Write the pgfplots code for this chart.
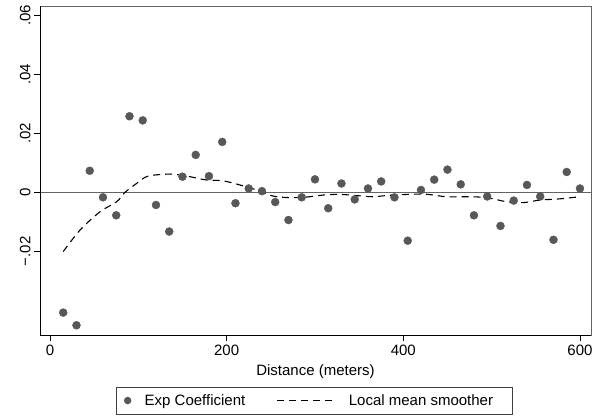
\documentclass[border=0pt]{standalone}
\usepackage{fontspec}
\setmainfont{Liberation Sans}
\usepackage{pgfplots}
\pgfplotsset{compat=1.18}
\definecolor{mk}{RGB}{88,88,88}
\definecolor{fr}{RGB}{100,100,100}
\begin{document}
\begin{tikzpicture}
\begin{axis}[
  scale only axis,
  width=551bp, height=329bp,
  xmin=-11.3, xmax=612.5,
  ymin=-0.0484, ymax=0.0632,
  scaled y ticks=false, scaled x ticks=false,
  axis line style={fr, line width=0.9bp},
  xtick={0,200,400,600},
  xticklabels={0,200,400,600},
  ytick={-0.02,0,0.02,0.04,0.06},
  yticklabels={−.02,0,.02,.04,.06},
  tick pos=lower,
  tick align=outside,
  major tick length=6bp,
  tick style={black, line width=0.8bp},
  every tick label/.style={font=\fontsize{15bp}{18bp}\selectfont},
  y tick label style={rotate=90, anchor=south},
  xlabel={Distance (meters)},
  xlabel style={font=\fontsize{15bp}{18bp}\selectfont, yshift=-3bp},
  legend columns=2,
  legend style={at={(0.498,-0.157)}, anchor=north, draw=black!75, line width=0.8bp,
    font=\fontsize{15bp}{18bp}\selectfont, inner xsep=0bp, inner ysep=4.3bp,
    nodes={inner xsep=0bp, inner ysep=3bp},
    /tikz/every even column/.append style={column sep=31bp}},
  legend cell align=left,
]
\addplot[draw=fr, line width=1bp, forget plot] coordinates {(-11.3,0) (612.5,0)};
\addplot[only marks, mark=*, mark size=4bp, mk, mark options={draw=mk, fill=mk},
  legend image code/.code={\path[draw=none,fill=none] (0bp,-1bp) rectangle (28bp,1bp); \fill[mk] (11bp,0bp) circle (3.3bp);}] coordinates {
(15,-0.0408) (30,-0.0451) (45,0.0073) (60,-0.0017) (75,-0.0078) (90,0.0258)
(105,0.0244) (120,-0.0043) (135,-0.0133) (150,0.0053) (165,0.0127) (180,0.0055)
(195,0.0171) (210,-0.0037) (225,0.0013) (240,0.0004) (255,-0.0033) (270,-0.0094)
(285,-0.0017) (300,0.0044) (315,-0.0054) (330,0.0030) (345,-0.0024) (360,0.0013)
(375,0.0037) (390,-0.0017) (405,-0.0164) (420,0.0008) (435,0.0043) (450,0.0077)
(465,0.0027) (480,-0.0078) (495,-0.0014) (510,-0.0114) (525,-0.0028) (540,0.0025)
(555,-0.0014) (570,-0.0161) (585,0.0069) (600,0.0013)
};
\addlegendentry{Exp Coefficient}
\addplot[black, line width=1.1bp, dash pattern=on 7bp off 5bp, smooth,
  legend image code/.code={\path[draw=none,fill=none] (0bp,-1bp) rectangle (72bp,1bp); \draw[black, line width=1.1bp, dash pattern=on 7bp off 5bp] (0bp,0bp) -- (57bp,0bp);}] coordinates {
(15,-0.0201) (34,-0.0128) (56.6,-0.0066) (75.5,-0.0032) (85,0) (98,0.003)
(111,0.0055) (136,0.0062) (150,0.0057) (158.5,0.0053) (177,0.0042) (196,0.0039)
(215,0.0025) (234,0.0008) (253,-0.0013) (272,-0.0018) (290.6,-0.0016) (310,-0.0009)
(328,-0.0007) (347,-0.0011) (366,-0.0015) (385,-0.0010) (422.6,-0.0006) (449,-0.0015)
(479,-0.0015) (498,-0.002) (517,-0.0032) (536,-0.0035) (555,-0.0026) (574,-0.0023)
(600,-0.0015)
};
\addlegendentry{Local mean smoother\hspace*{19bp}}
\end{axis}
\draw[black, line width=1bp] (current axis.north west) -- (current axis.south west) -- (current axis.south east);
\path ([xshift=-40bp,yshift=-83bp]current axis.south west) rectangle ([xshift=9bp,yshift=6bp]current axis.north east);
\end{tikzpicture}
\end{document}
